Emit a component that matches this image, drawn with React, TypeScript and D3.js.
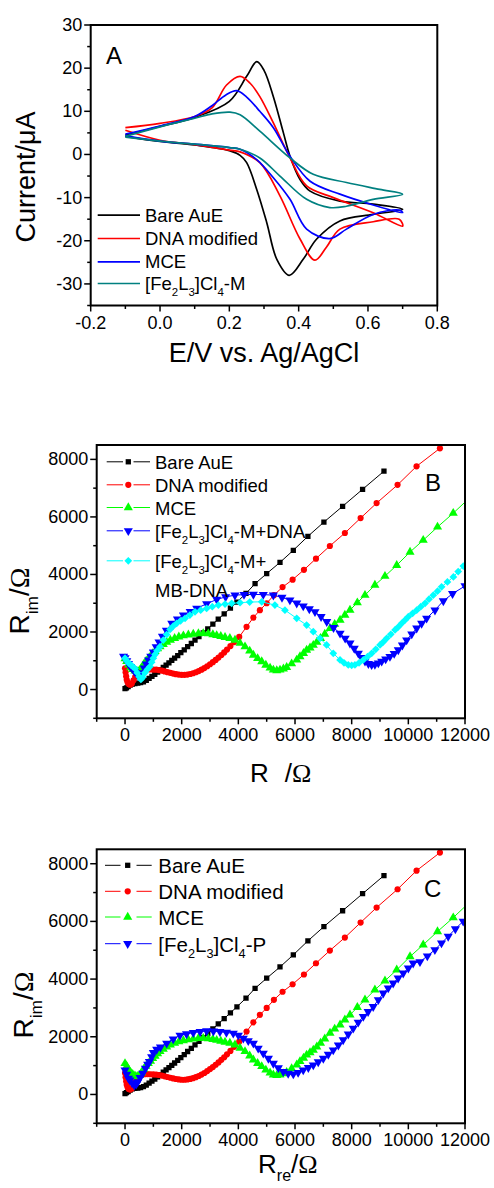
import React from 'react';
import * as d3 from 'd3';

const FONT = "'Liberation Sans', Arial, Helvetica, sans-serif";
const SERIF = "'Liberation Serif', 'Times New Roman', serif";

// ---- panel A: cyclic voltammograms, [E (V), I (uA)], forward sweep then reverse
const cvBare = [
  [-0.1, 4.5], [0.0, 6.5], [0.1, 8.6], [0.2, 12.3], [0.25, 18.1], [0.279, 21.5], [0.3, 19.5], [0.327, 13.4],
  [0.356, 5.0], [0.375, -0.4], [0.404, -5.8], [0.433, -8.5], [0.519, -10.8], [0.615, -11.5], [0.7, -12.7],
  [0.615, -13.9], [0.519, -15.4], [0.452, -19.6], [0.413, -24.3], [0.373, -28], [0.337, -24.3], [0.308, -15.8],
  [0.279, -8.1], [0.25, -1.9], [0.231, -0.2], [0.2, 0.9], [0.1, 2.2], [0.0, 3.0], [-0.1, 4.2],
];
const cvDna = [
  [-0.1, 6.2], [0.0, 7.2], [0.1, 8.8], [0.15, 10.8], [0.192, 16.1], [0.231, 18.1], [0.26, 16.5], [0.288, 13.4],
  [0.327, 7.3], [0.375, -0.8], [0.423, -7.3], [0.5, -10], [0.615, -13.5], [0.7, -16.6], [0.69, -15.0],
  [0.615, -15.6], [0.519, -17.3], [0.48, -21.5], [0.447, -24.5], [0.404, -19.6], [0.346, -9.6], [0.288, -1.9],
  [0.231, 0.6], [0.2, 1.0], [0.1, 2.3], [0.0, 3.3], [-0.1, 5.6],
];
const cvMce = [
  [-0.1, 4.7], [0.0, 6.6], [0.1, 8.8], [0.15, 11.3], [0.19, 13.8], [0.221, 14.8], [0.25, 13.3], [0.288, 10.0],
  [0.327, 6.2], [0.375, -0.4], [0.433, -6.2], [0.519, -9.2], [0.615, -11.7], [0.7, -13.5], [0.69, -12.9],
  [0.615, -13.9], [0.538, -17.3], [0.49, -19.5], [0.423, -17.3], [0.375, -10.4], [0.327, -5.4], [0.279, -1.2],
  [0.231, 1.2], [0.2, 1.6], [0.1, 2.4], [0.0, 3.1], [-0.1, 4.3],
];
const cvFeM = [
  [-0.1, 4.2], [0.0, 6.4], [0.1, 8.4], [0.15, 9.4], [0.202, 9.8], [0.231, 9.2], [0.288, 5.4], [0.375, -0.8],
  [0.442, -4.6], [0.538, -6.5], [0.634, -8.1], [0.7, -9.2], [0.615, -10.4], [0.538, -12.0], [0.49, -12.3],
  [0.423, -10.4], [0.346, -5.0], [0.288, -0.8], [0.231, 1.2], [0.2, 1.6], [0.1, 2.4], [0.0, 3.1], [-0.1, 4.0],
];
const cvNames = ['Bare AuE', 'DNA modified', 'MCE', '[Fe_{2}L_{3}]Cl_{4}-M'];

// ---- panels B and C: Nyquist plots, [Zre (ohm), -Zim (ohm)]
const eisBare = [
  [0, 30], [50, 60], [110, 100], [180, 150], [260, 190], [350, 210], [450, 220], [550, 240], [650, 270], [750, 320],
  [850, 390], [950, 460], [1050, 530], [1150, 610], [1250, 690], [1350, 770], [1450, 850], [1550, 930], [1650, 1010],
  [1750, 1090], [1860, 1180], [1970, 1280], [2090, 1380], [2210, 1490], [2340, 1600], [2470, 1720], [2610, 1840],
  [2760, 1970], [2920, 2110], [3100, 2270], [3290, 2450], [3500, 2630], [3720, 2830], [3950, 3040], [4270, 3340],
  [4590, 3680], [5000, 4030], [5470, 4420], [5940, 4840], [6455, 5325], [7020, 5820], [7680, 6370], [8385, 6960],
  [9140, 7590],
];
const eisDna = [
  [0, 740], [20, 600], [40, 460], [60, 340], [90, 250], [130, 190], [180, 170], [240, 210], [300, 320], [360, 440],
  [430, 560], [510, 640], [600, 680], [700, 700], [800, 705], [900, 700], [1000, 695], [1100, 690], [1200, 675],
  [1300, 655], [1400, 630], [1500, 605], [1600, 580], [1700, 555], [1800, 535], [1900, 520], [2000, 510],
  [2100, 510], [2200, 520], [2300, 540], [2400, 565], [2500, 600], [2600, 640], [2700, 690], [2800, 745],
  [2900, 810], [3000, 880], [3100, 950], [3200, 1030], [3300, 1110], [3400, 1200], [3500, 1290], [3600, 1390],
  [3720, 1510], [3850, 1650], [4030, 1830], [4290, 2180], [4530, 2500], [4760, 2760], [5000, 3000], [5255, 3280],
  [5560, 3560], [5915, 3820], [6315, 4160], [6740, 4550], [7230, 4990], [7760, 5440], [8315, 5960], [8880, 6480],
  [9620, 7115], [10290, 7760], [11115, 8385],
];
const eisMce = [
  [0, 1075], [60, 980], [130, 860], [200, 760], [270, 700], [350, 650], [430, 630], [505, 660], [580, 760],
  [660, 880], [740, 980], [820, 1080], [900, 1160], [975, 1250], [1060, 1330], [1150, 1420], [1235, 1490],
  [1350, 1570], [1470, 1650], [1600, 1720], [1750, 1780], [1900, 1830], [2060, 1870], [2235, 1900], [2410, 1930],
  [2590, 1945], [2760, 1950], [2940, 1940], [3100, 1910], [3235, 1880], [3380, 1850], [3530, 1815], [3700, 1780],
  [3880, 1720], [4060, 1610], [4235, 1490], [4400, 1340], [4530, 1200], [4680, 1080], [4825, 970], [4970, 850],
  [5120, 750], [5235, 680], [5355, 660], [5470, 680], [5590, 720], [5705, 770], [5880, 900], [6060, 1030],
  [6175, 1145], [6300, 1260], [6410, 1370], [6530, 1450], [6645, 1540], [6770, 1650], [6900, 1780], [7050, 1930],
  [7235, 2128], [7400, 2270], [7590, 2415], [7760, 2590], [7940, 2760], [8200, 3020], [8470, 3280], [8820, 3630],
  [9175, 3940], [9590, 4320], [10060, 4780], [10525, 5190], [11030, 5650], [11585, 6130], [12200, 6700],
];
const eisMDna = [
  [-50, 1150], [0, 1100], [60, 1000], [120, 900], [190, 800], [260, 720], [330, 640], [400, 560], [470, 480],
  [540, 460], [610, 580], [680, 740], [750, 880], [830, 1020], [910, 1150], [1000, 1300], [1100, 1480],
  [1200, 1650], [1320, 1850], [1460, 2060], [1650, 2300], [1850, 2450], [2060, 2590], [2300, 2710], [2530, 2820],
  [2880, 2980], [3235, 3130], [3550, 3220], [3880, 3280], [4200, 3300], [4530, 3305], [4880, 3300], [5235, 3280],
  [5540, 3200], [5820, 3110], [6060, 3000], [6290, 2900], [6505, 2800], [6705, 2700], [6920, 2530], [7120, 2357],
  [7360, 2150], [7590, 1955], [7770, 1780], [7940, 1610], [8090, 1430], [8235, 1260], [8350, 1110], [8470, 980],
  [8590, 900], [8705, 860], [8820, 870], [8940, 920], [9060, 980], [9200, 1060], [9350, 1145], [9500, 1250],
  [9645, 1375], [9790, 1540], [9940, 1720], [10120, 1930], [10295, 2130], [10470, 2300], [10645, 2475],
  [10940, 2760], [11235, 3080], [11560, 3330], [12000, 3600],
];
const eisMbDna = [
  [0, 1090], [60, 1000], [130, 920], [200, 860], [270, 800], [350, 730], [430, 580], [500, 440], [560, 350],
  [620, 420], [700, 580], [790, 700], [880, 800], [940, 950], [1000, 1090], [1060, 1220], [1130, 1350],
  [1235, 1490], [1350, 1720], [1470, 1910], [1590, 2090], [1700, 2200], [1825, 2300], [1960, 2390], [2120, 2475],
  [2290, 2590], [2470, 2700], [2670, 2760], [2880, 2820], [3080, 2880], [3295, 2935], [3530, 2970], [3765, 2995],
  [4060, 3020], [4400, 3040], [4825, 3050], [5290, 2935], [5645, 2760], [6060, 2475], [6410, 2240], [6645, 2010],
  [6880, 1780], [7115, 1550], [7350, 1260], [7590, 1030], [7730, 930], [7880, 856], [8000, 840], [8115, 856],
  [8260, 930], [8410, 1030], [8560, 1140], [8705, 1260], [8850, 1400], [9000, 1550], [9120, 1660], [9235, 1780],
  [9380, 1920], [9530, 2070], [9650, 2180], [9765, 2300], [9880, 2410], [10000, 2530], [10150, 2650],
  [10295, 2760], [10440, 2880], [10590, 2995], [10730, 3140], [10880, 3280], [11030, 3420], [11175, 3570],
  [11380, 3740], [11590, 3915], [11760, 4100], [11940, 4290], [12100, 4420],
];
const eisP = [
  [0, 845], [60, 700], [120, 560], [170, 497], [250, 400], [330, 324], [400, 360], [450, 440], [530, 580],
  [625, 730], [720, 900], [800, 1040], [860, 1134], [940, 1300], [1000, 1450], [1117, 1563], [1250, 1640],
  [1470, 1773], [1700, 1920], [1940, 2050], [2170, 2100], [2410, 2143], [2650, 2175], [2880, 2200], [3120, 2195],
  [3350, 2177], [3580, 2150], [3820, 2120], [4000, 2050], [4175, 1947], [4350, 1860], [4530, 1773], [4700, 1600],
  [4880, 1425], [5060, 1250], [5235, 1077], [5410, 920], [5585, 788], [5760, 730], [5940, 707], [6110, 760],
  [6290, 846], [6470, 930], [6645, 1020], [6820, 1130], [7000, 1250], [7175, 1390], [7350, 1540], [7530, 1710],
  [7700, 1889], [7880, 2090], [8055, 2295], [8230, 2500], [8410, 2700], [8580, 2870], [8760, 3045], [8940, 3280],
  [9115, 3510], [9290, 3690], [9465, 3860], [9640, 4030], [9820, 4205], [10000, 4380], [10170, 4553],
  [10410, 4600], [10670, 4800], [10937, 5017], [11170, 5250], [11407, 5481], [11660, 5740], [11936, 6003],
];
const namesB = ['Bare AuE', 'DNA modified', 'MCE', '[Fe_{2}L_{3}]Cl_{4}-M+DNA', '[Fe_{2}L_{3}]Cl_{4}-M+'];
const namesC = ['Bare AuE', 'DNA modified', 'MCE', '[Fe_{2}L_{3}]Cl_{4}-P'];

// text with _{sub} parts and serif Omega
function Rich({ text, size, subScale = 0.62, subShift = 0.32 }) {
  const parts = text.split(/_\{([^}]*)\}/);
  const out = [];
  let down = false;
  parts.forEach((p, i) => {
    if (p === '') return;
    const sub = i % 2 === 1;
    let dy = 0;
    if (sub && !down) { dy = size * subShift; down = true; }
    if (!sub && down) { dy = -size * subShift; down = false; }
    if (sub) {
      out.push(<tspan key={i} dy={dy} fontSize={size * subScale}>{p}</tspan>);
    } else {
      const bits = p.split(/(Ω)/).filter(b => b !== '');
      bits.forEach((b, j) => {
        out.push(
          <tspan key={i + '-' + j} dy={dy} fontSize={size}
            fontFamily={b === 'Ω' ? SERIF : undefined}>{b}</tspan>
        );
        dy = 0;
      });
    }
  });
  return <>{out}</>;
}

function markerPath(kind) {
  if (kind === 'square') return d3.symbol(d3.symbolSquare, 28)();
  if (kind === 'circle') return d3.symbol(d3.symbolCircle, 30)();
  if (kind === 'diamond') return d3.symbol(d3.symbolSquare, 30)();
  return d3.symbol(d3.symbolTriangle, 36)();
}
function markerRot(kind) {
  if (kind === 'triDown') return 180;
  if (kind === 'diamond') return 45;
  return 0;
}

function Marker({ x, y, kind, color }) {
  return <path d={markerPath(kind)} transform={`translate(${x},${y}) rotate(${markerRot(kind)})`} fill={color} />;
}

function Axes({ x, y, xMajor, xMinor, yMajor, yMinor, fmtX, fmtY, fs = 18 }) {
  const [x0, x1] = x.range();
  const [y0, y1] = y.range(); // y0 bottom, y1 top
  return (
    <g fontFamily={FONT} fontSize={fs}>
      {yMinor.map(v => <line key={'ym' + v} x1={x0 - 3.5} x2={x0} y1={y(v)} y2={y(v)} stroke="#000" strokeWidth={1.5} />)}
      {yMajor.map(v => (
        <g key={'y' + v}>
          <line x1={x0 - 6.5} x2={x0} y1={y(v)} y2={y(v)} stroke="#000" strokeWidth={1.5} />
          <text x={x0 - 8.5} y={y(v)} textAnchor="end" dominantBaseline="central">{fmtY(v)}</text>
        </g>
      ))}
      {xMinor.map(v => <line key={'xm' + v} x1={x(v)} x2={x(v)} y1={y0} y2={y0 + 3.5} stroke="#000" strokeWidth={1.5} />)}
      {xMajor.map(v => (
        <g key={'x' + v}>
          <line x1={x(v)} x2={x(v)} y1={y0} y2={y0 + 6} stroke="#000" strokeWidth={1.5} />
          <text x={x(v)} y={y0 + 23} textAnchor="middle">{fmtX(v)}</text>
        </g>
      ))}
      <rect x={x0} y={y1} width={x1 - x0} height={y0 - y1} fill="none" stroke="#000" strokeWidth={2} />
    </g>
  );
}

function Nyquist({ id, x, y, series }) {
  const [x0, x1] = x.range();
  const [y0, y1] = y.range();
  const line = d3.line().x(d => x(d[0])).y(d => y(d[1]));
  return (
    <g>
      <clipPath id={id}><rect x={x0} y={y1} width={x1 - x0} height={y0 - y1} /></clipPath>
      <g clipPath={`url(#${id})`}>
        {series.map((s, i) => (
          <g key={i}>
            <path d={line(s.data)} fill="none" stroke={s.color} strokeWidth={1} />
            {s.data.map((d, j) => <Marker key={j} x={x(d[0])} y={y(d[1])} kind={s.kind} color={s.color} />)}
          </g>
        ))}
      </g>
    </g>
  );
}

function Legend({ series, names, rows, lx, mx, rx, tx, fs, lineOff }) {
  return (
    <g fontFamily={FONT} fontSize={fs}>
      {series.map((s, i) => (
        <g key={i}>
          <line x1={lx[0]} x2={lx[1]} y1={rows[i] - lineOff} y2={rows[i] - lineOff} stroke={s.color} strokeWidth={1} />
          <line x1={rx[0]} x2={rx[1]} y1={rows[i] - lineOff} y2={rows[i] - lineOff} stroke={s.color} strokeWidth={1} />
          <Marker x={mx} y={rows[i] - lineOff} kind={s.kind} color={s.color} />
          <text x={tx} y={rows[i]}><Rich text={names[i]} size={fs} /></text>
        </g>
      ))}
    </g>
  );
}

export default function App() {
  // panel A
  const xA = d3.scaleLinear().domain([-0.2, 0.8]).range([90.7, 437.3]);
  const yA = d3.scaleLinear().domain([-35, 30]).range([305.5, 25]);
  const cvLine = d3.line().x(d => xA(d[0])).y(d => yA(d[1])).curve(d3.curveCatmullRom.alpha(0.5));
  const cvSeries = [
    { data: cvBare, color: '#000000' },
    { data: cvDna, color: '#ff0000' },
    { data: cvMce, color: '#0000ff' },
    { data: cvFeM, color: '#008080' },
  ];
  const rowsA = [221.7, 245, 268.3, 290];

  // panel B and C
  const xB = d3.scaleLinear().domain([-1000, 12000]).range([96.7, 465]);
  const yB = d3.scaleLinear().domain([-1000, 8500]).range([718.3, 445]);
  const yC = d3.scaleLinear().domain([-1000, 8500]).range([1123.3, 849.3]);
  const seriesB = [
    { data: eisBare, color: '#000000', kind: 'square' },
    { data: eisDna, color: '#ff0000', kind: 'circle' },
    { data: eisMce, color: '#00ff00', kind: 'triUp' },
    { data: eisMDna, color: '#0000ff', kind: 'triDown' },
    { data: eisMbDna, color: '#00ffff', kind: 'diamond' },
  ];
  const seriesC = [
    { data: eisBare, color: '#000000', kind: 'square' },
    { data: eisDna, color: '#ff0000', kind: 'circle' },
    { data: eisMce, color: '#00ff00', kind: 'triUp' },
    { data: eisP, color: '#0000ff', kind: 'triDown' },
  ];
  const zMajor = d3.range(0, 12001, 2000);
  const zMinor = d3.range(-1000, 12000, 2000);
  const imMajor = d3.range(0, 8001, 2000);
  const imMinor = d3.range(-1000, 8000, 2000);

  return (
    <svg width={494} height={1188} style={{ position: 'absolute', left: 0, top: 0, background: '#fff' }}>
      {/* ---------- A ---------- */}
      <g>
        {cvSeries.map((s, i) => (
          <path key={i} d={cvLine(s.data)} fill="none" stroke={s.color} strokeWidth={1.7} />
        ))}
        <Axes x={xA} y={yA}
          xMajor={d3.range(-0.2, 0.81, 0.2)} xMinor={d3.range(-0.1, 0.8, 0.2)}
          yMajor={d3.range(-30, 31, 10)} yMinor={d3.range(-35, 30, 10)}
          fmtX={v => (Math.abs(v) < 1e-9 ? 0 : v).toFixed(1)} fmtY={v => String(v)} />
        <g fontFamily={FONT} fontSize={18.5}>
          {cvSeries.map((s, i) => (
            <g key={i}>
              <line x1={97.7} x2={140} y1={rowsA[i] - 6.5} y2={rowsA[i] - 6.5} stroke={s.color} strokeWidth={1.7} />
              <text x={145} y={rowsA[i]}><Rich text={cvNames[i]} size={18.5} /></text>
            </g>
          ))}
        </g>
        <text x={106} y={64} fontFamily={FONT} fontSize={24}>A</text>
        <text transform="translate(35,177) rotate(-90)" textAnchor="middle" fontFamily={FONT} fontSize={27}>Current/μA</text>
        <text x={264} y={361.5} textAnchor="middle" fontFamily={FONT} fontSize={27}>E/V vs. Ag/AgCl</text>
      </g>

      {/* ---------- B ---------- */}
      <g>
        <Nyquist id="clipB" x={xB} y={yB} series={seriesB} />
        <Axes x={xB} y={yB} xMajor={zMajor} xMinor={zMinor} yMajor={imMajor} yMinor={imMinor}
          fmtX={v => String(v)} fmtY={v => String(v)} />
        <Legend series={seriesB} names={namesB} rows={[469.3, 492.3, 515, 538.3, 568.3]}
          lx={[106.7, 123]} mx={128.3} rx={[133.5, 150]} tx={155} fs={18.5} lineOff={7.5} />
        <text x={155} y={596.7} fontFamily={FONT} fontSize={18.5}>MB-DNA</text>
        <text x={425} y={491} fontFamily={FONT} fontSize={24}>B</text>
        <text transform="translate(29,601) rotate(-90)" textAnchor="middle" fontFamily={FONT}>
          <Rich text="R_{im}/Ω" size={28} />
        </text>
        <text x={250} y={781.7} fontFamily={FONT} fontSize={26}>
          R<tspan dx={16}>/</tspan><tspan fontFamily={SERIF}>Ω</tspan>
        </text>
      </g>

      {/* ---------- C ---------- */}
      <g>
        <Nyquist id="clipC" x={xB} y={yC} series={seriesC} />
        <Axes x={xB} y={yC} xMajor={zMajor} xMinor={zMinor} yMajor={imMajor} yMinor={imMinor}
          fmtX={v => String(v)} fmtY={v => String(v)} />
        <Legend series={seriesC} names={namesC} rows={[873.3, 899.3, 925, 951.7]}
          lx={[105, 120.5]} mx={127.7} rx={[136.5, 151.7]} tx={158.3} fs={20.5} lineOff={8} />
        <text x={424} y={897.3} fontFamily={FONT} fontSize={24}>C</text>
        <text transform="translate(33,1005) rotate(-90)" textAnchor="middle" fontFamily={FONT}>
          <Rich text="R_{im}/Ω" size={28} />
        </text>
        <text x={258} y={1173} fontFamily={FONT}>
          <Rich text="R_{re}/Ω" size={26} />
        </text>
      </g>
    </svg>
  );
}
